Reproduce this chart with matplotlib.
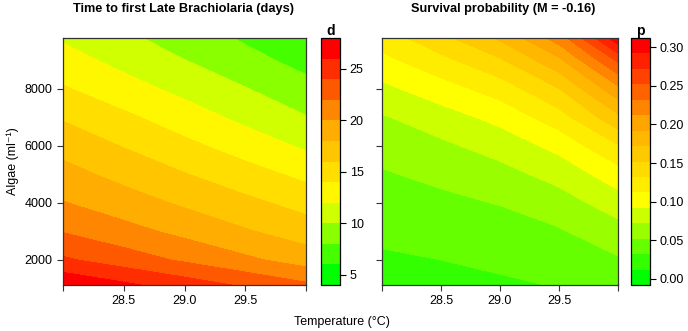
import numpy as np
import matplotlib
matplotlib.use("Agg")
import matplotlib.pyplot as plt
from matplotlib.colors import LinearSegmentedColormap, ListedColormap, BoundaryNorm
from matplotlib.colorbar import ColorbarBase
from matplotlib.ticker import NullLocator

plt.rcParams['font.family'] = ['Liberation Sans', 'DejaVu Sans']

# grid
temperature = [28.0, 28.5, 29.0, 29.5, 30.0]
algae = [1000, 2000, 3000, 4000, 5000, 6000, 7000, 8000, 9000, 10000]

# time to first late brachiolaria (days), rows = algae, cols = temperature
days = [
    [28.2, 26.85, 25.5, 24.15, 22.8],
    [24.3, 23.0, 21.7, 20.4, 19.1],
    [21.9, 20.7, 19.45, 18.2, 17.0],
    [20.1, 18.9, 17.7, 16.5, 15.3],
    [18.7, 17.4, 16.1, 14.8, 13.5],
    [17.3, 15.9, 14.5, 13.1, 11.7],
    [15.8, 14.4, 12.95, 11.5, 10.1],
    [14.2, 12.8, 11.45, 10.1, 8.7],
    [12.8, 11.4, 10.05, 8.7, 7.3],
    [11.5, 10.15, 8.8, 7.45, 6.1],
]

# survival probability
surv = [
    [0.026, 0.027, 0.029, 0.032, 0.038],
    [0.030, 0.032, 0.035, 0.040, 0.050],
    [0.035, 0.038, 0.042, 0.050, 0.064],
    [0.042, 0.047, 0.053, 0.063, 0.082],
    [0.050, 0.057, 0.065, 0.079, 0.103],
    [0.059, 0.068, 0.080, 0.098, 0.130],
    [0.070, 0.083, 0.098, 0.123, 0.167],
    [0.087, 0.103, 0.121, 0.151, 0.206],
    [0.106, 0.126, 0.149, 0.187, 0.255],
    [0.126, 0.153, 0.182, 0.232, 0.320],
]

days_levels = np.arange(4, 28.01, 2)
surv_levels = np.arange(-0.008, 0.3121, 0.02)
days_ticks = [5, 10, 15, 20, 25]
surv_ticks = [0.0, 0.05, 0.10, 0.15, 0.20, 0.25, 0.30]

ramp = LinearSegmentedColormap.from_list("gyr", ["#00ff00", "#ffff00", "#ffa500", "#ff0000"])


def make_cmap(n):
    cols = [ramp(i / (n - 1)) for i in range(n)]
    cm = ListedColormap(cols)
    cm.set_under(cols[0])
    cm.set_over(cols[-1])
    return cm


fig = plt.figure(figsize=(6.88, 3.31), dpi=100)
W, H = 688.0, 331.0


def box(x0, x1, y0, y1):
    return [x0 / W, 1 - y1 / H, (x1 - x0) / W, (y1 - y0) / H]


panels = [
    (days, days_levels, days_ticks, "Time to first Late Brachiolaria (days)", "d",
     box(63, 306, 38, 285), box(321, 340, 38, 285), "%d", 184),
    (surv, surv_levels, surv_ticks, "Survival probability (M = -0.16)", "p",
     box(382, 618, 38, 285), box(631, 650, 38, 285), "%.2f", 503),
]

T, A = np.meshgrid(temperature, algae)
for i, (z, lv, tk, title, key, rect, crect, fmt, tx) in enumerate(panels):
    ax = fig.add_axes(rect)
    cmap = make_cmap(len(lv) - 1)
    norm = BoundaryNorm(lv, cmap.N)
    ax.contourf(T, A, np.array(z), levels=lv, cmap=cmap, norm=norm, extend="both", antialiased=False)
    ax.set_xlim(28, 30)
    ax.set_ylim(1120, 9790)
    ax.set_xticks([28, 28.5, 29, 29.5, 30])
    ax.set_xticklabels(["", "28.5", "29.0", "29.5", ""])
    ax.set_yticks([2000, 4000, 6000, 8000])
    if i == 0:
        ax.set_ylabel("Algae (ml⁻¹)", fontsize=9)
    else:
        ax.set_yticklabels([])
    ax.tick_params(labelsize=9, length=4, width=0.8, color="#333333")
    for s in ax.spines.values():
        s.set_linewidth(0.9)
        s.set_color("#333333")
    fig.text(tx / W, 1 - 9 / H, title, ha="center", va="center", fontsize=9.2, fontweight="bold")

    cax = fig.add_axes(crect)
    cb = ColorbarBase(cax, cmap=cmap, norm=norm, boundaries=lv, ticks=tk, format=fmt)
    cb.outline.set_linewidth(0.9)
    cax.yaxis.set_minor_locator(NullLocator())
    cax.tick_params(labelsize=9, length=4, width=0.8, pad=3)
    cax.set_title(key, fontsize=10, fontweight="bold", pad=1)

fig.text(342 / W, 1 - 322 / H, "Temperature (°C)", ha="center", va="center", fontsize=9)

fig.savefig("out.png", dpi=100)
